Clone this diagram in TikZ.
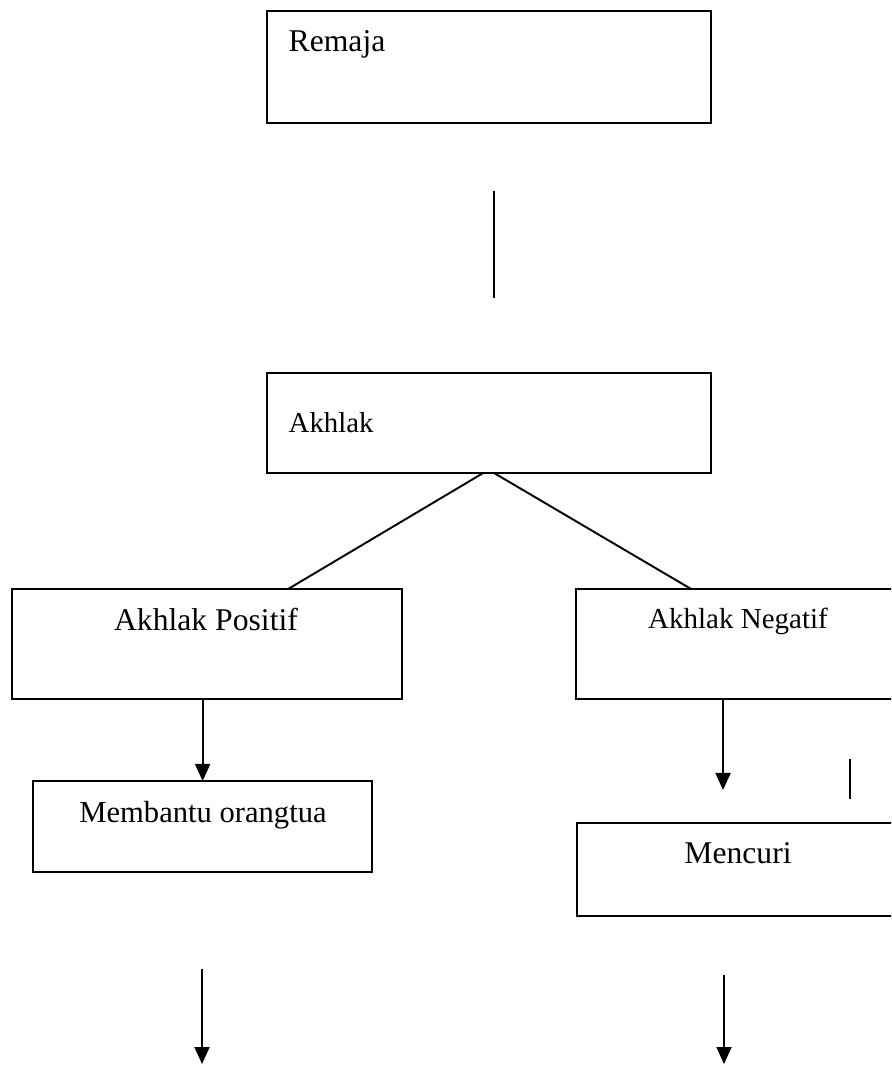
\documentclass[tikz,border=0pt]{standalone}
\usepackage{fontspec}
\setmainfont{Liberation Serif}
\usetikzlibrary{positioning, calc, arrows.meta}

\begin{document}
\begin{tikzpicture}[x=0.01cm, y=-0.01cm,
    box/.style={draw, line width=0.55pt, inner sep=0pt, outer sep=0pt, anchor=north west},
    txt/.style={inner sep=0pt, anchor=base},
    ln/.style={line width=0.55pt},
    arr/.style={line width=0.55pt, -{Triangle[length=0.17cm, width=0.15cm]}}]
        \useasboundingbox (0,0) rectangle (891,1065);
        \clip (0,0) rectangle (891,1065);
        % boxes
        \node[box, minimum width=4.44cm, minimum height=1.12cm] (remaja)   at (267,11)  {};
        \node[box, minimum width=4.44cm, minimum height=1.00cm] (akhlak)   at (267,373) {};
        \node[box, minimum width=3.90cm, minimum height=1.10cm] (positif)  at (12,589)  {};
        \node[box, minimum width=3.24cm, minimum height=1.10cm] (negatif)  at (576,589) {};
        \node[box, minimum width=3.39cm, minimum height=0.91cm] (membantu) at (33,781)  {};
        \node[box, minimum width=3.23cm, minimum height=0.93cm] (mencuri)  at (577,823) {};
        % texts
        \node[txt, anchor=base west, font=\fontsize{9}{11}\selectfont]   (t-remaja)   at (288,52)  {Remaja};
        \node[txt, anchor=base west, font=\fontsize{8.2}{10}\selectfont] (t-akhlak)   at (288,433) {Akhlak};
        \node[txt, font=\fontsize{9}{11}\selectfont]    (t-positif)  at (206,630) {Akhlak Positif};
        \node[txt, font=\fontsize{8.25}{10}\selectfont] (t-negatif)  at (738,628) {Akhlak Negatif};
        \node[txt, font=\fontsize{8.7}{10}\selectfont]  (t-membantu) at (203,822) {Membantu orangtua};
        \node[txt, font=\fontsize{9}{11}\selectfont]    (t-mencuri)  at (738,863) {Mencuri};
        % free ends
        \coordinate (gap-top)  at (494,191);
        \coordinate (gap-bot)  at (494,298);
        \coordinate (neg-end)  at (723,790);
        \coordinate (tick-top) at (850,759);
        \coordinate (tick-bot) at (850,799);
        \coordinate (left-top) at (202,969);
        \coordinate (left-end) at (202,1064);
        \coordinate (right-top) at (724,975);
        \coordinate (right-end) at (724,1064);
        % lines
        \draw[ln] (gap-top) -- (gap-bot);
        \draw[ln] ([xshift=-0.06cm]akhlak.south) -- ([xshift=0.81cm]positif.north);
        \draw[ln] ([xshift=0.05cm]akhlak.south)  -- ([xshift=-0.47cm]negatif.north);
        \draw[ln] (tick-top) -- (tick-bot);
        % arrows
        \draw[arr] (positif.south -| membantu.north) -- (membantu.north);
        \draw[arr] (negatif.south -| neg-end) -- (neg-end);
        \draw[arr] (left-top)  -- (left-end);
        \draw[arr] (right-top) -- (right-end);
\end{tikzpicture}
\end{document}
